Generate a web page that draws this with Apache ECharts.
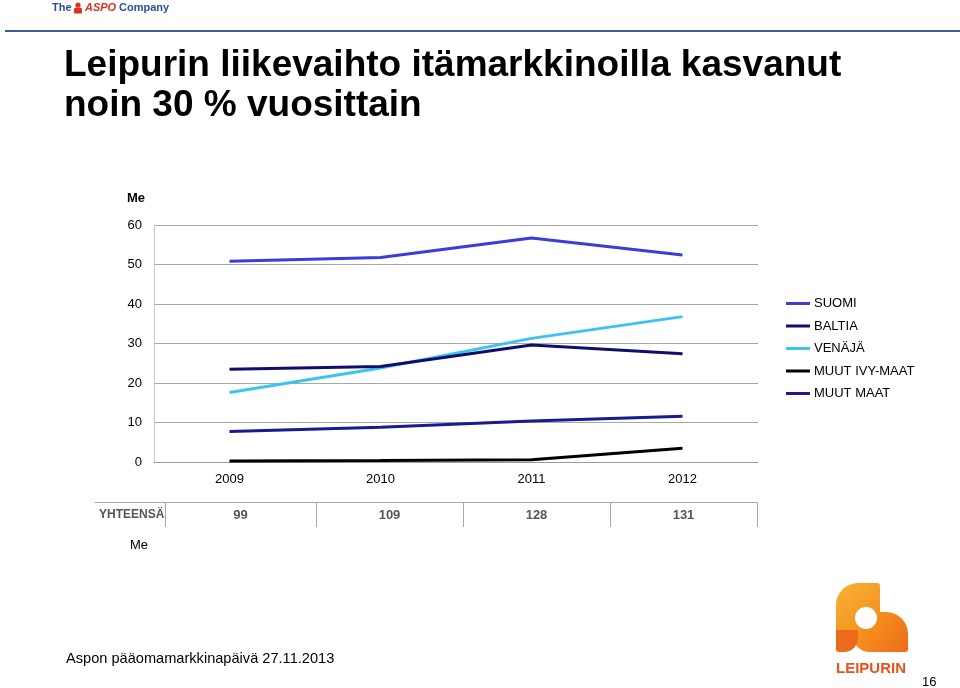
<!DOCTYPE html>
<html><head><meta charset="utf-8">
<script src="https://cdn.jsdelivr.net/npm/echarts@6/dist/echarts.min.js"></script>
<style>html,body{margin:0;padding:0;background:#fff}#c{width:960px;height:688px}</style>
</head><body><div id="c"></div>
<script>
const years = ['2009', '2010', '2011', '2012'];
const seriesNames = ['SUOMI', 'BALTIA', 'VENÄJÄ', 'MUUT IVY-MAAT', 'MUUT MAAT'];
const suomi = [50.8, 51.8, 56.7, 52.4];
const baltia = [23.5, 24.2, 29.6, 27.4];
const venaja = [17.6, 23.8, 31.3, 36.8];
const muutIvy = [0.25, 0.4, 0.6, 3.5];
const muutMaat = [7.7, 8.8, 10.4, 11.6];
const totals = ['99', '109', '128', '131'];
const totalLabel = 'YHTEENSÄ';

const colors = ['#3c3cd8', '#0e0e6e', '#3ec2ef', '#000000', '#1a1a92'];
const values = [suomi, baltia, venaja, muutIvy, muutMaat];
const F = 'Liberation Sans, Arial, sans-serif';

const chart = echarts.init(document.getElementById('c'));

const graphics = [
  {type:'rect', shape:{x:5,y:30,width:955,height:2}, style:{fill:'#3d5f8f'}},
  {type:'text', x:52, y:2, style:{text:'The', font:'bold 11px '+F, fill:'#2a4fa0'}},
  {type:'circle', shape:{cx:78, cy:5, r:2.6}, style:{fill:'#e03020'}},
  {type:'rect', shape:{x:74, y:7.5, width:8, height:6, r:[2,2,1,1]}, style:{fill:'#e03020'}},
  {type:'text', x:85, y:2, style:{text:'ASPO', font:'bold italic 11px '+F, fill:'#e03020'}},
  {type:'text', x:119, y:2, style:{text:'Company', font:'bold 11px '+F, fill:'#2a4fa0'}},
  {type:'text', x:64, y:47, style:{text:'Leipurin liikevaihto itämarkkinoilla kasvanut', font:'bold 37px '+F, fill:'#000'}},
  {type:'text', x:64, y:87, style:{text:'noin 30 % vuosittain', font:'bold 37px '+F, fill:'#000'}},
  {type:'text', x:127, y:192, style:{text:'Me', font:'bold 13px '+F, fill:'#000'}},
  {type:'rect', shape:{x:95,y:502,width:663,height:1}, style:{fill:'#a8a8a8'}},
  {type:'text', x:99, y:509, style:{text:totalLabel, font:'bold 12px '+F, fill:'#555'}},
  {type:'text', x:130, y:539, style:{text:'Me', font:'13px '+F, fill:'#000'}},
  {type:'text', x:66, y:651, style:{text:'Aspon pääomamarkkinapäivä 27.11.2013', font:'14.6px '+F, fill:'#000'}},
  {type:'text', x:922, y:676, style:{text:'16', font:'13px '+F, fill:'#000'}},
  {type:'rect', shape:{x:836,y:583,width:44,height:52,r:[22,3,3,3]},
    style:{fill:new echarts.graphic.LinearGradient(0,0,1,1,[{offset:0,color:'#f9b233'},{offset:1,color:'#f08a1c'}])}},
  {type:'rect', shape:{x:852,y:612,width:56,height:40,r:[18,22,3,18]},
    style:{fill:new echarts.graphic.LinearGradient(0,0,1,1,[{offset:0,color:'#f7a21e'},{offset:1,color:'#ee6a1a'}])}},
  {type:'circle', shape:{cx:866, cy:618, r:11}, style:{fill:'#fff'}},
  {type:'rect', shape:{x:836,y:630,width:22,height:22,r:[0,0,14,3]}, style:{fill:'#ec6a1c'}},
  {type:'text', x:836, y:661, style:{text:'LEIPURIN', font:'bold 15px '+F, fill:'#e5541c'}}
];

const sepX = [165, 316, 463, 610, 757];
totals.forEach((t,i)=>{
  graphics.push({type:'text', x:(sepX[i]+sepX[i+1])/2, y:515, style:{text:t, font:'bold 13px '+F, fill:'#555', align:'center', verticalAlign:'middle'}});
});
sepX.forEach(x=>graphics.push({type:'rect', shape:{x:x,y:503,width:1,height:24}, style:{fill:'#a8a8a8'}}));

chart.setOption({
  animation:false,
  grid:{left:154, right:202, top:225, bottom:226, containLabel:false},
  legend:{
    orient:'vertical', left:781, top:292, itemWidth:24, itemHeight:3, itemGap:9.5,
    icon:'rect', data:seriesNames,
    textStyle:{fontFamily:F, fontSize:13, color:'#000', padding:[0,0,0,-1]}
  },
  xAxis:{
    type:'category', data:years, boundaryGap:true,
    axisLine:{show:true, lineStyle:{color:'#9a9a9a', width:1}},
    axisTick:{show:false},
    axisLabel:{fontFamily:F, fontSize:13, color:'#000', margin:11}
  },
  yAxis:{
    type:'value', min:0, max:60, interval:10,
    axisLine:{show:true, lineStyle:{color:'#c8c8c8'}},
    axisTick:{show:false},
    axisLabel:{fontFamily:F, fontSize:13, color:'#000', margin:12},
    splitLine:{lineStyle:{color:'#a8a8a8', width:1}}
  },
  series: seriesNames.map((n,i)=>({
    name:n, type:'line', data:values[i], showSymbol:false, symbol:'none',
    lineStyle:{color:colors[i], width:3}, itemStyle:{color:colors[i]}, z: 10-i
  })),
  graphic: graphics
});
</script>
</body></html>
